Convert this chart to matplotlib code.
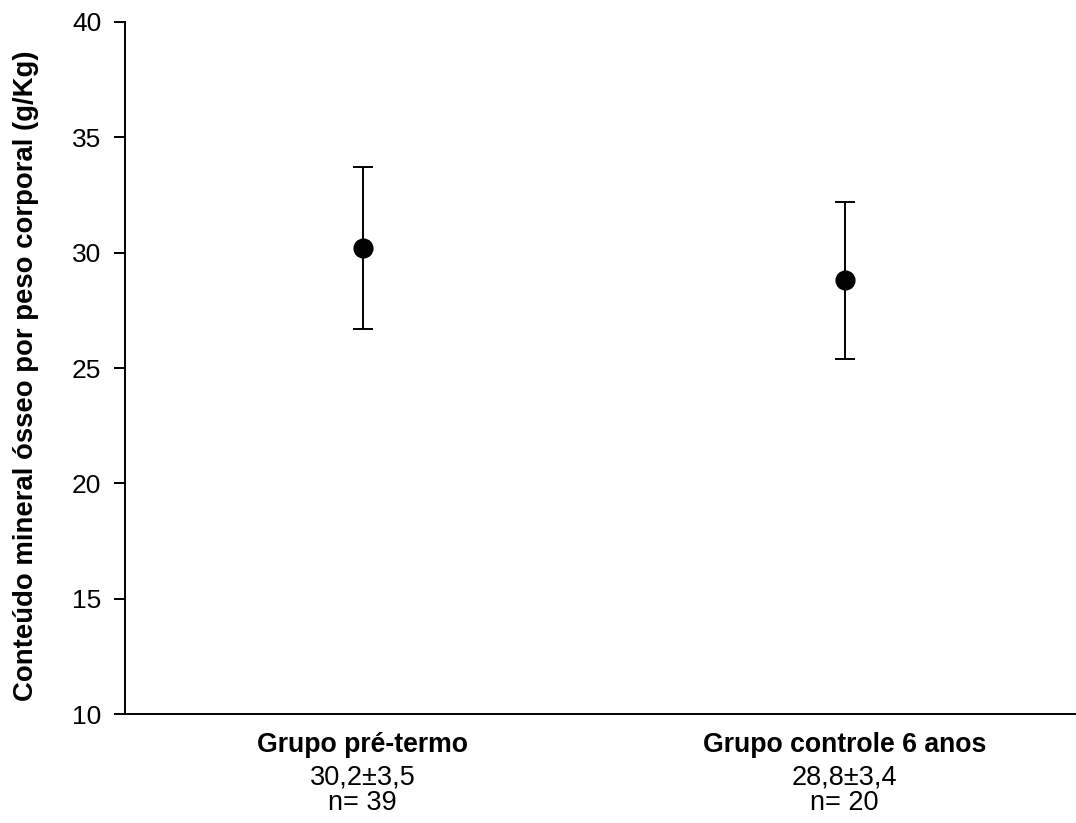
import numpy as np
import matplotlib.pyplot as plt
import matplotlib.transforms as mtransforms

plt.rcParams['font.family'] = ['Liberation Sans', 'DejaVu Sans']

# dados
grupos = ['Grupo pré-termo', 'Grupo controle 6 anos']
medias = [30.2, 28.8]
desvios = [3.5, 3.4]
n_grupos = [39, 20]
pos = [0.5, 1.515]

fig = plt.figure(figsize=(10.76, 8.23), dpi=100)
ax = fig.add_axes([0.1162, 0.1324, 0.8828, 0.8409])

ax.errorbar(pos, medias, yerr=desvios, fmt='o', color='black', markersize=13.5,
            capsize=7.5, elinewidth=1.4, capthick=1.4)

ax.set_xlim(0, 2)
ax.set_ylim(10, 40)
ax.set_yticks(np.arange(10, 41, 5))
ax.set_xticks([])
ax.spines['top'].set_visible(False)
ax.spines['right'].set_visible(False)
ax.spines['left'].set_linewidth(1.4)
ax.spines['bottom'].set_linewidth(1.4)
ax.tick_params(axis='y', labelsize=19, length=8, width=1.4, pad=9)

# título do eixo y posicionado na figura
fig.text(26 / 1076, 1 - 376 / 823, 'Conteúdo mineral ósseo por peso corporal (g/Kg)',
         rotation=90, ha='center', va='center', fontsize=19.8, fontweight='bold')

# rótulos das categorias abaixo do eixo
trans = mtransforms.blended_transform_factory(ax.transData, fig.transFigure)
for x, g, m, s, n in zip(pos, grupos, medias, desvios, n_grupos):
    ax.text(x, 1 - 745 / 823, g, transform=trans, ha='center', va='center',
            fontsize=19.2, fontweight='bold')
    txt = f'{m:.1f}±{s:.1f}'.replace('.', ',')
    ax.text(x, 1 - 778 / 823, txt, transform=trans, ha='center', va='center', fontsize=19.5)
    ax.text(x, 1 - 803 / 823, f'n= {n}', transform=trans, ha='center', va='center', fontsize=19.5)

plt.savefig('out.png', dpi=100)
